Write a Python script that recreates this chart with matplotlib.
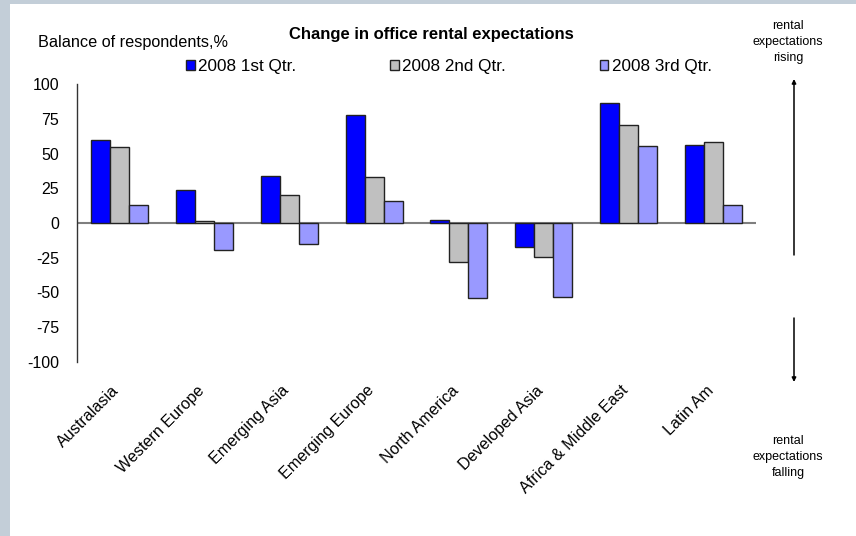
import matplotlib
matplotlib.use("Agg")
import matplotlib.pyplot as plt
from matplotlib.patches import Rectangle
from matplotlib.transforms import ScaledTranslation
import numpy as np

plt.rcParams['font.family'] = ['Liberation Sans', 'DejaVu Sans']

categories = ["Australasia", "Western Europe", "Emerging Asia", "Emerging Europe",
              "North America", "Developed Asia", "Africa & Middle East", "Latin Am"]
series_names = ["2008 1st Qtr.", "2008 2nd Qtr.", "2008 3rd Qtr."]
q1 = [60, 23.5, 34, 77.5, 2.4, -17.5, 86, 56]
q2 = [55, 1.7, 20.5, 33, -28.3, -24.7, 70.5, 58]
q3 = [13.2, -19.4, -14.8, 15.8, -54.2, -53.5, 55.2, 12.7]
yticks = [100, 75, 50, 25, 0, -25, -50, -75, -100]
colors = ["#0000FF", "#C0C0C0", "#9999FF"]

W, H = 856, 536
fig = plt.figure(figsize=(W / 100, H / 100), dpi=100)
fig.patch.set_facecolor("#C3CED8")
fig.patches.append(Rectangle((10 / W, 0), 1 - 10 / W, 1 - 4 / H, transform=fig.transFigure,
                             facecolor="white", edgecolor="none", zorder=-5))

ax = fig.add_axes([77 / W, 1 - 362 / H, (756 - 77) / W, (362 - 84) / H])
ax.set_facecolor("none")
ax.set_zorder(2)

x = np.arange(len(categories))
bw = 0.224
handles = []
for i, (vals, c, name) in enumerate(zip([q1, q2, q3], colors, series_names)):
    b = ax.bar(x + (i - 1) * bw, vals, width=bw, color=c, edgecolor="#222222",
               linewidth=1.0, label=name, zorder=3)
    handles.append(b)

ax.axhline(0, color="#7f7f7f", lw=1.5, zorder=2)
ax.set_xlim(-0.5, len(categories) - 0.5)
ax.set_ylim(-100, 100)
ax.set_yticks(yticks)
ax.set_yticklabels([str(v) for v in yticks], fontsize=11.5)
ax.tick_params(axis='y', length=0, pad=13)
ax.set_xticks(x)
ax.set_xticklabels(categories, rotation=45, ha='right', rotation_mode='anchor', fontsize=11.6)
ax.tick_params(axis='x', length=0, pad=15)
shift = ScaledTranslation(-8 / 100, 0, fig.dpi_scale_trans)
for lab in ax.get_xticklabels():
    lab.set_transform(lab.get_transform() + shift)
for s in ["top", "right", "bottom"]:
    ax.spines[s].set_visible(False)
ax.spines["left"].set_color("#333333")
ax.spines["left"].set_linewidth(1.0)

fig.legend(handles=handles, labels=series_names, loc="center left",
           bbox_to_anchor=(186 / W, 1 - 66.5 / H), ncol=3, frameon=False,
           fontsize=12.3, handlelength=0.5, handleheight=0.5, handletextpad=0.2,
           columnspacing=5.5, borderpad=0, borderaxespad=0)

fig.text(431 / W, 1 - 34 / H, "Change in office rental expectations", ha="center",
         va="center", fontsize=12, fontweight="bold")
fig.text(38 / W, 1 - 43 / H, "Balance of respondents,%", ha="left", va="center", fontsize=11.7)

fig.text(788 / W, 1 - 42 / H, "rental\nexpectations\nrising", ha="center", va="center",
         fontsize=9, linespacing=1.4)
fig.text(788 / W, 1 - 457 / H, "rental\nexpectations\nfalling", ha="center", va="center",
         fontsize=9, linespacing=1.4)

ax_x = 794 / W
for y0, y1 in [(255, 79), (318, 382)]:
    ax.annotate("", xy=(ax_x, 1 - y1 / H), xytext=(ax_x, 1 - y0 / H),
                xycoords="figure fraction", textcoords="figure fraction",
                annotation_clip=False,
                arrowprops=dict(arrowstyle="-|>", color="black", lw=1.1, mutation_scale=6,
                                shrinkA=0, shrinkB=0))

fig.savefig("out.png", dpi=100, facecolor=fig.get_facecolor())
